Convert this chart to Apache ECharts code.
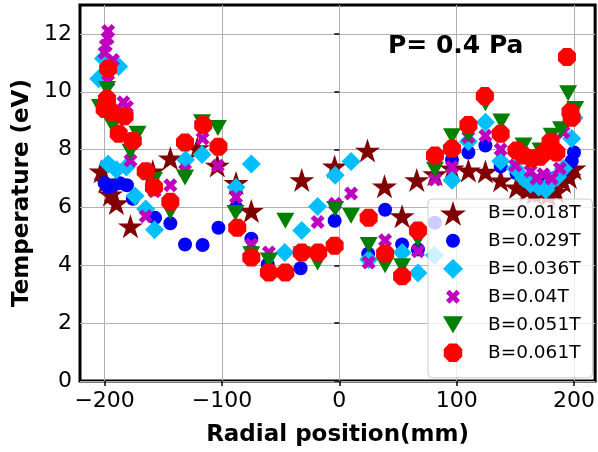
<!DOCTYPE html>
<html>
<head>
<meta charset="utf-8">
<script src="https://cdn.jsdelivr.net/npm/echarts@6/dist/echarts.min.js"></script>
<style>
  html, body { margin: 0; padding: 0; background: #ffffff; }
  #chart { width: 598px; height: 452px; }
</style>
</head>
<body>
<div id="chart"></div>
<script>
// Axis ticks
const xTicks = [-200, -100, 0, 100, 200];
const yTicks = [0, 2, 4, 6, 8, 10, 12];

// Legend labels
const seriesNames = ['B=0.018T', 'B=0.029T', 'B=0.036T', 'B=0.04T', 'B=0.051T', 'B=0.061T'];

// Electron temperature (eV) against radial position (mm), one list per field strength
const b018 = [[-203, 7.25], [-199, 6.9], [-195, 6.45], [-190, 6.15], [-178, 5.35], [-159, 7.25], [-144, 7.7],
  [-121, 8.05], [-104, 7.45], [-88, 6.85], [-75, 5.88], [-32, 6.95], [-4, 7.42], [24, 7.97], [38.5, 6.73],
  [53.5, 5.7], [66, 6.95], [81.5, 7.15], [96, 7.35], [110, 7.28], [124.5, 7.24], [137.5, 6.94], [151, 6.7],
  [160, 6.6], [166, 6.5], [172, 6.55], [178, 6.45], [185, 6.55], [191, 6.9], [196, 7.05], [200, 7.35]];

const b029 = [[-200, 6.85], [-197, 6.7], [-193, 6.75], [-187, 6.84], [-181, 6.77], [-176, 6.3], [-157, 5.64],
  [-144, 5.45], [-131.5, 4.72], [-116.5, 4.7], [-103, 5.3], [-88, 6.0], [-75, 4.92], [-61, 4.03], [-33, 3.9],
  [-4, 5.54], [24.6, 4.4], [39, 5.92], [53.5, 4.72], [67, 4.55], [81.5, 5.47], [96, 7.65], [110, 7.9],
  [124.5, 8.14], [137.5, 7.42], [151, 7.18], [160, 6.95], [167, 6.75], [174, 6.8], [182, 7.0], [190, 7.2],
  [198, 7.6], [200, 7.9]];

const b036 = [[-205, 10.45], [-201, 11.15], [-188, 10.87], [-197, 7.5], [-190, 7.3], [-181.5, 7.4], [-174, 6.4],
  [-165, 5.95], [-157.5, 5.23], [-131, 7.65], [-117, 7.83], [-88, 6.7], [-75, 7.5], [-46.5, 4.44], [-32, 5.2],
  [-18.5, 6.03], [-3.5, 7.11], [10, 7.59], [25, 4.2], [53.5, 4.44], [67, 3.73], [81, 4.35], [96, 6.94],
  [110, 8.28], [124.5, 8.95], [137.5, 7.6], [150, 7.35], [157, 7.0], [163, 6.8], [170, 6.7], [176, 6.6],
  [181, 6.9], [186, 7.05], [191, 7.35], [198, 8.38], [200, 9.1]];

const b040 = [[-197, 12.1], [-197.5, 11.85], [-199, 11.6], [-200, 11.35], [-193, 11.1], [-197, 10.36],
  [-184, 9.64], [-181, 9.47], [-178, 7.62], [-165, 5.7], [-157.5, 6.56], [-144, 6.77], [-131.5, 7.28],
  [-116.5, 8.38], [-103.5, 7.44], [-88, 6.36], [-75, 4.72], [-60, 4.44], [-18.5, 5.5], [-3.5, 6.13], [10, 6.48],
  [25, 4.1], [39, 4.87], [67, 4.49], [81.5, 6.97], [96, 7.4], [110, 8.44], [124.5, 8.48], [137.5, 8.0],
  [150, 7.45], [163, 7.25], [168, 7.0], [174, 7.15], [181, 7.0], [188, 7.35], [191, 8.6]];

const b051 = [[-198, 10.1], [-204, 9.47], [-193, 8.82], [-172, 8.55], [-178, 7.93], [-158, 6.95], [-144, 5.85],
  [-131.5, 7.04], [-117, 8.95], [-103.5, 8.75], [-88.5, 5.81], [-75, 4.38], [-60, 4.17], [-46, 5.54],
  [-32, 4.38], [-18.5, 4.1], [-3.5, 5.95], [10, 5.71], [25, 4.7], [39, 4.0], [53.5, 3.97], [67, 4.9],
  [81.5, 7.3], [96, 8.46], [110, 8.52], [124.5, 9.6], [138, 8.97], [157, 8.14], [171.5, 7.97], [181, 8.48],
  [189, 8.7], [195, 9.95], [201, 9.4]];

const b061 = [[-197, 10.8], [-198, 9.75], [-200, 9.4], [-194, 9.3], [-183, 9.15], [-188, 8.55], [-176, 8.3],
  [-165, 7.25], [-158, 6.7], [-144, 6.2], [-131.5, 8.25], [-116, 8.85], [-103, 8.1], [-87, 5.3], [-75, 4.27],
  [-60, 3.75], [-46, 3.75], [-32, 4.44], [-18, 4.44], [-4, 4.68], [25, 5.64], [39, 4.41], [53.5, 3.62],
  [67, 5.2], [81.5, 7.8], [96, 8.03], [110, 8.85], [124, 9.85], [137.5, 8.55], [151, 7.97], [157, 7.8],
  [164, 7.7], [171, 7.75], [176, 7.95], [180, 8.27], [185, 7.9], [194, 11.2], [197, 9.3], [198, 9.1]];

// Marker shapes
const STAR = 'path://M95.11,0 L117.56,69.1 L190.22,69.1 L131.44,111.8 L153.89,180.9 L95.11,138.2 L36.33,180.9 L58.78,111.8 L0,69.1 L72.66,69.1 Z';
const CROSS = 'path://M6,0 L4,2 L2,0 L0,2 L2,4 L0,6 L2,8 L4,6 L6,8 L8,6 L6,4 L8,2 Z';
const TRI_DOWN = 'path://M0,0 L20,0 L10,17 Z';
const OCTAGON = 'path://M184.78,54.12 L130.66,0 L54.12,0 L0,54.12 L0,130.66 L54.12,184.78 L130.66,184.78 L184.78,130.66 Z';

// Legend icons drawn inside a 26x26 frame so they keep their relative sizes
const FRAME = ' M0,0 L0.01,0 M26,26 L25.99,26';
const LEG_CIRCLE = 'path://M6,13 A7,7 0 1 1 20,13 A7,7 0 1 1 6,13 Z' + FRAME;
const LEG_DIAMOND = 'path://M13,3 L23,13 L13,23 L3,13 Z' + FRAME;
const LEG_CROSS = 'path://M16.5,6 L13,9.5 L9.5,6 L6,9.5 L9.5,13 L6,16.5 L9.5,20 L13,16.5 L16.5,20 L20,16.5 L16.5,13 L20,9.5 Z' + FRAME;
const LEG_TRI = 'path://M3,4.5 L23,4.5 L13,21.5 Z' + FRAME;
const LEG_OCT = 'path://M22.24,16.83 L16.83,22.24 L9.17,22.24 L3.76,16.83 L3.76,9.17 L9.17,3.76 L16.83,3.76 L22.24,9.17 Z' + FRAME;

const FONT = 'DejaVu Sans';
const minus = v => (v < 0 ? '\u2212' + Math.abs(v) : String(v));

const styles = [
  { data: b018, symbol: STAR, size: [25, 24], color: '#800000', icon: STAR },
  { data: b029, symbol: 'circle', size: 14, color: '#0000ff', icon: LEG_CIRCLE },
  { data: b036, symbol: 'diamond', size: [19, 19], color: '#00bfff', icon: LEG_DIAMOND },
  { data: b040, symbol: CROSS, size: [14, 14], color: '#bf00bf', icon: LEG_CROSS },
  { data: b051, symbol: TRI_DOWN, size: [18, 16], color: '#008000', icon: LEG_TRI },
  { data: b061, symbol: OCTAGON, size: [18, 18], color: '#ff0000', icon: LEG_OCT }
];

const chart = echarts.init(document.getElementById('chart'), null, { renderer: 'canvas' });

chart.setOption({
  animation: false,
  backgroundColor: '#ffffff',
  textStyle: { fontFamily: FONT },
  grid: {
    left: 80, right: 2, top: 5, bottom: 67,
    show: true, borderColor: '#000000', borderWidth: 3, backgroundColor: 'transparent'
  },
  xAxis: {
    type: 'value', min: -221, max: 218,
    name: 'Radial position(mm)', nameLocation: 'middle', nameGap: 43,
    nameTextStyle: { fontFamily: FONT, fontWeight: 'bold', fontSize: 23, color: '#000' },
    axisLine: { show: false },
    axisTick: { show: true, inside: false, length: 5, lineStyle: { color: '#000', width: 1.5 }, customValues: xTicks },
    axisLabel: { fontFamily: FONT, fontSize: 22, color: '#000', margin: 9, formatter: minus, customValues: xTicks },
    splitLine: { show: true, lineStyle: { color: '#b0b0b0', width: 1 }, customValues: xTicks }
  },
  yAxis: {
    type: 'value', min: 0, max: 13,
    name: 'Temperature (eV)', nameLocation: 'middle', nameGap: 41, nameRotate: 90,
    nameTextStyle: { fontFamily: FONT, fontWeight: 'bold', fontSize: 23, color: '#000' },
    axisLine: { show: false },
    axisTick: { show: true, inside: false, length: 5, lineStyle: { color: '#000', width: 1.5 }, customValues: yTicks },
    axisLabel: { fontFamily: FONT, fontSize: 22, color: '#000', margin: 8, customValues: yTicks },
    splitLine: { show: true, lineStyle: { color: '#b0b0b0', width: 1 }, customValues: yTicks }
  },
  legend: {
    orient: 'vertical', left: 428, top: 199,
    itemWidth: 26, itemHeight: 26, itemGap: 2,
    padding: [2, 12, 12, 12],
    backgroundColor: 'rgba(255,255,255,0.8)', borderColor: '#cccccc', borderWidth: 1, borderRadius: 4,
    textStyle: { fontFamily: FONT, fontSize: 18.5, color: '#000', padding: [0, 0, 0, 17] },
    data: seriesNames.map((n, i) => ({ name: n, icon: styles[i].icon, itemStyle: { color: styles[i].color } })),
    selectedMode: false
  },
  graphic: [{
    type: 'text', left: 388, top: 34, z: 10,
    style: { text: 'P= 0.4 Pa', fill: '#000', font: 'bold 25px "DejaVu Sans"' }
  }],
  series: styles.map((s, i) => ({
    type: 'scatter', name: seriesNames[i], data: s.data,
    symbol: s.symbol, symbolSize: s.size,
    itemStyle: { color: s.color, opacity: 1 },
    emphasis: { disabled: true }
  }))
});
</script>
</body>
</html>
